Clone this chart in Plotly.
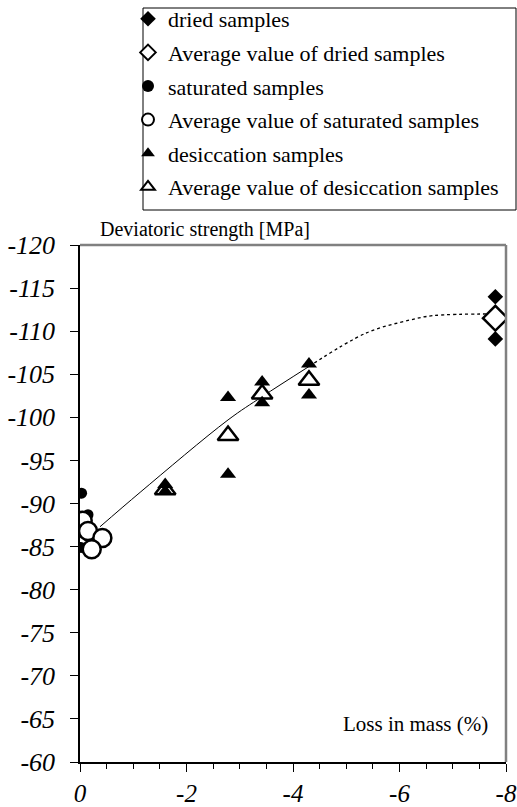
import plotly.graph_objects as go

# ---------------- data ----------------
dried_x = [-7.8, -7.8]
dried_y = [-114.0, -109.1]
dried_avg_x = [-7.8]
dried_avg_y = [-111.5]

sat_x = [-0.03, -0.15, -0.02]
sat_y = [-91.2, -88.7, -84.9]
sat_avg_x = [-0.05, -0.15, -0.42, -0.22]
sat_avg_y = [-88.0, -86.8, -86.0, -84.7]

des_x = [-1.6, -1.6, -2.78, -2.78, -3.42, -3.42, -4.3, -4.3]
des_y = [-91.4, -92.2, -102.3, -93.4, -104.1, -101.7, -106.2, -102.6]
des_avg_x = [-1.6, -2.78, -3.42, -4.3]
des_avg_y = [-91.6, -97.9, -102.7, -104.3]

trend_solid_x = [-0.375, -1.13, -2.78, -3.42, -4.3]
trend_solid_y = [-87.3, -91.3, -99.7, -102.4, -105.9]
trend_dot_x = [-4.3, -5.38, -6.2, -6.63, -7.8]
trend_dot_y = [-105.9, -109.8, -111.3, -111.8, -112.0]

x_tickvals = [0, -2, -4, -6, -8]
x_ticktext = ["0", "-2", "-4", "-6", "-8"]
y_tickvals = list(range(-120, -55, 5))
y_ticktext = ["-%d" % abs(v) for v in y_tickvals]

FONT = "Liberation Serif, Times New Roman, serif"

# plot-area geometry (px)
W, H = 517, 807
L, R, T, B = 80, 11, 245, 45
PW, PH = W - L - R, H - T - B


def px_x(p):
    return (p - L) / PW


def px_y(p):
    return (H - B - p) / PH


fig = go.Figure()

fig.add_trace(go.Scatter(x=trend_solid_x, y=trend_solid_y, mode="lines",
                         line=dict(color="black", width=1, shape="spline"),
                         showlegend=False, hoverinfo="skip"))
fig.add_trace(go.Scatter(x=trend_dot_x, y=trend_dot_y, mode="lines",
                         line=dict(color="black", width=1.3, dash="dot", shape="spline"),
                         showlegend=False, hoverinfo="skip"))

fig.add_trace(go.Scatter(x=dried_x, y=dried_y, mode="markers", name="dried samples",
                         legendgroup="a", legendrank=1,
                         marker=dict(symbol="diamond", size=12, color="black")))
fig.add_trace(go.Scatter(x=dried_avg_x, y=dried_avg_y, mode="markers",
                         name="Average value of dried samples", legendgroup="b",
                         legendrank=2,
                         marker=dict(symbol="diamond", size=19, color="white",
                                     line=dict(color="black", width=2.5))))
fig.add_trace(go.Scatter(x=sat_x, y=sat_y, mode="markers", name="saturated samples",
                         legendgroup="c", legendrank=3,
                         marker=dict(symbol="circle", size=11, color="black")))
fig.add_trace(go.Scatter(x=sat_avg_x, y=sat_avg_y, mode="markers",
                         name="Average value of saturated samples", legendgroup="d",
                         legendrank=4,
                         marker=dict(symbol="circle", size=18, color="white",
                                     line=dict(color="black", width=2.5))))
fig.add_trace(go.Scatter(x=des_avg_x, y=des_avg_y, mode="markers",
                         name="Average value of desiccation samples", legendgroup="f",
                         legendrank=6,
                         marker=dict(symbol="triangle-up", size=18, color="white",
                                     line=dict(color="black", width=2.5))))
fig.add_trace(go.Scatter(x=des_x, y=des_y, mode="markers", name="desiccation samples",
                         legendgroup="e", legendrank=5,
                         marker=dict(symbol="triangle-up", size=14, color="black")))

fig.update_layout(
    width=W, height=H,
    margin=dict(l=L, r=R, t=T, b=B, autoexpand=False),
    paper_bgcolor="white", plot_bgcolor="white",
    font=dict(family=FONT, color="black", size=20),
    legend=dict(x=px_x(128), y=px_y(-2), xanchor="left", yanchor="top",
                borderwidth=0, bgcolor="rgba(0,0,0,0)",
                font=dict(family=FONT, size=22, color="black"),
                itemsizing="constant", tracegroupgap=2),
    xaxis=dict(range=[0, -8], tickvals=x_tickvals,
               ticktext=["<i>%s</i>" % t for t in x_ticktext],
               showgrid=False, zeroline=False, showline=True, linecolor="black",
               linewidth=1.5, ticks="outside", ticklen=8, tickcolor="black",
               tickwidth=1, ticklabelstandoff=0,
               minor=dict(dtick=0.5, tick0=0, ticks="outside", ticklen=5,
                          tickcolor="black", showgrid=False),
               tickfont=dict(family=FONT, size=25)),
    yaxis=dict(range=[-60, -120], tickvals=y_tickvals,
               ticktext=["<i>%s</i>" % t for t in y_ticktext],
               showgrid=False, zeroline=False, showline=True, linecolor="black",
               linewidth=1.5, ticks="outside", ticklen=8, tickcolor="black",
               tickwidth=1, ticklabelstandoff=10,
               tickfont=dict(family=FONT, size=26)),
    shapes=[
        dict(type="line", xref="paper", yref="paper", x0=0, x1=1, y0=1, y1=1,
             line=dict(color="#808080", width=2.5)),
        dict(type="line", xref="paper", yref="paper", x0=1, x1=1, y0=0, y1=1,
             line=dict(color="#808080", width=2.5)),
        # legend frame
        dict(type="rect", xref="paper", yref="paper",
             x0=px_x(143), x1=px_x(516), y0=px_y(210), y1=px_y(8),
             line=dict(color="black", width=1), fillcolor="rgba(0,0,0,0)",
             layer="below"),
    ],
    annotations=[
        dict(text="Deviatoric strength [MPa]", xref="paper", yref="paper",
             x=px_x(98), y=1.0, xanchor="left", yanchor="bottom", yshift=2,
             showarrow=False, font=dict(family=FONT, size=20)),
        dict(text="Loss in mass (%)", xref="paper", yref="paper",
             x=px_x(490), y=px_y(724), xanchor="right", yanchor="middle",
             showarrow=False, font=dict(family=FONT, size=21)),
    ],
)

fig.write_html("out.html", config={"displayModeBar": False},
               post_script="document.body.style.margin='0px';")
